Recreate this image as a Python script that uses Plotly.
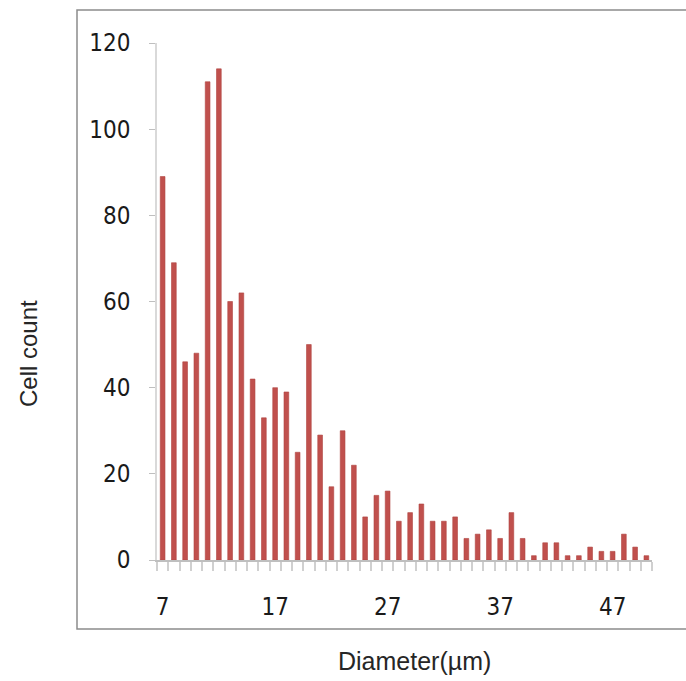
import plotly.graph_objects as go

diameters = list(range(7, 51))
cell_counts = [89, 69, 46, 48, 111, 114, 60, 62, 42, 33,
               40, 39, 25, 50, 29, 17, 30, 22, 10, 15,
               16, 9, 11, 13, 9, 9, 10, 5, 6, 7,
               5, 11, 5, 1, 4, 4, 1, 1, 3, 2,
               2, 6, 3, 1]
x_tick_values = [7, 17, 27, 37, 47]
y_tick_values = [0, 20, 40, 60, 80, 100, 120]

W, H = 686, 681
L, R, T, B = 157, 34, 43, 121
pw, ph = W - L - R, H - T - B

def px_x(p):
    return (p - L) / pw

def px_y(p):
    return (H - B - p) / ph

font_family = "Liberation Sans Narrow, DejaVu Sans Condensed, Liberation Sans, sans-serif"

fig = go.Figure()
fig.add_trace(go.Bar(
    x=diameters, y=cell_counts,
    marker=dict(color="#C0504D", line=dict(color="#B04441", width=0.6)),
    width=0.42,
))

fig.update_layout(
    width=W, height=H,
    margin=dict(l=L, r=R, t=T, b=B),
    paper_bgcolor="white", plot_bgcolor="white",
    showlegend=False,
    font=dict(family=font_family, color="#262626"),
    xaxis=dict(
        range=[6.5, 50.5],
        tickmode="array", tickvals=x_tick_values,
        ticktext=[str(v) for v in x_tick_values],
        ticks="outside", ticklen=24, tickcolor="rgba(0,0,0,0)",
        tickfont=dict(size=24, family=font_family, color="#1a1a1a"),
        showline=True, linecolor="#BFBFBF", linewidth=1.5,
        showgrid=False, zeroline=False,
        minor=dict(ticks="outside", ticklen=9, tickcolor="#D0D0D0",
                   tickwidth=1.5, tick0=6.5, dtick=1, showgrid=False),
        fixedrange=True,
    ),
    yaxis=dict(
        range=[0, 120],
        tickmode="array", tickvals=y_tick_values,
        ticks="outside", ticklen=6, tickcolor="#BFBFBF",
        ticklabelstandoff=14,
        tickfont=dict(size=24, family=font_family, color="#1a1a1a"),
        showline=True, linecolor="#D9D9D9", linewidth=1.5,
        showgrid=False, zeroline=False,
        fixedrange=True,
    ),
    bargap=0.58,
)

# outer chart-area border
fig.add_shape(type="rect", xref="paper", yref="paper",
              x0=px_x(77), x1=px_x(700), y0=px_y(629), y1=px_y(10),
              line=dict(color="#8C8C8C", width=1.5), fillcolor="rgba(0,0,0,0)",
              layer="below")

fig.add_annotation(text="Diameter(µm)", xref="paper", yref="paper",
                   x=px_x(414), y=px_y(661), xanchor="center", yanchor="middle",
                   showarrow=False,
                   font=dict(size=25, family="Liberation Sans, sans-serif", color="#262626"))
fig.add_annotation(text="Cell count", xref="paper", yref="paper",
                   x=px_x(28), y=px_y(354), xanchor="center", yanchor="middle",
                   showarrow=False, textangle=-90,
                   font=dict(size=24, family="Liberation Sans, sans-serif", color="#262626"))

fig.write_html("out.html", config={"displayModeBar": False},
               post_script="document.body.style.margin='0px';")
